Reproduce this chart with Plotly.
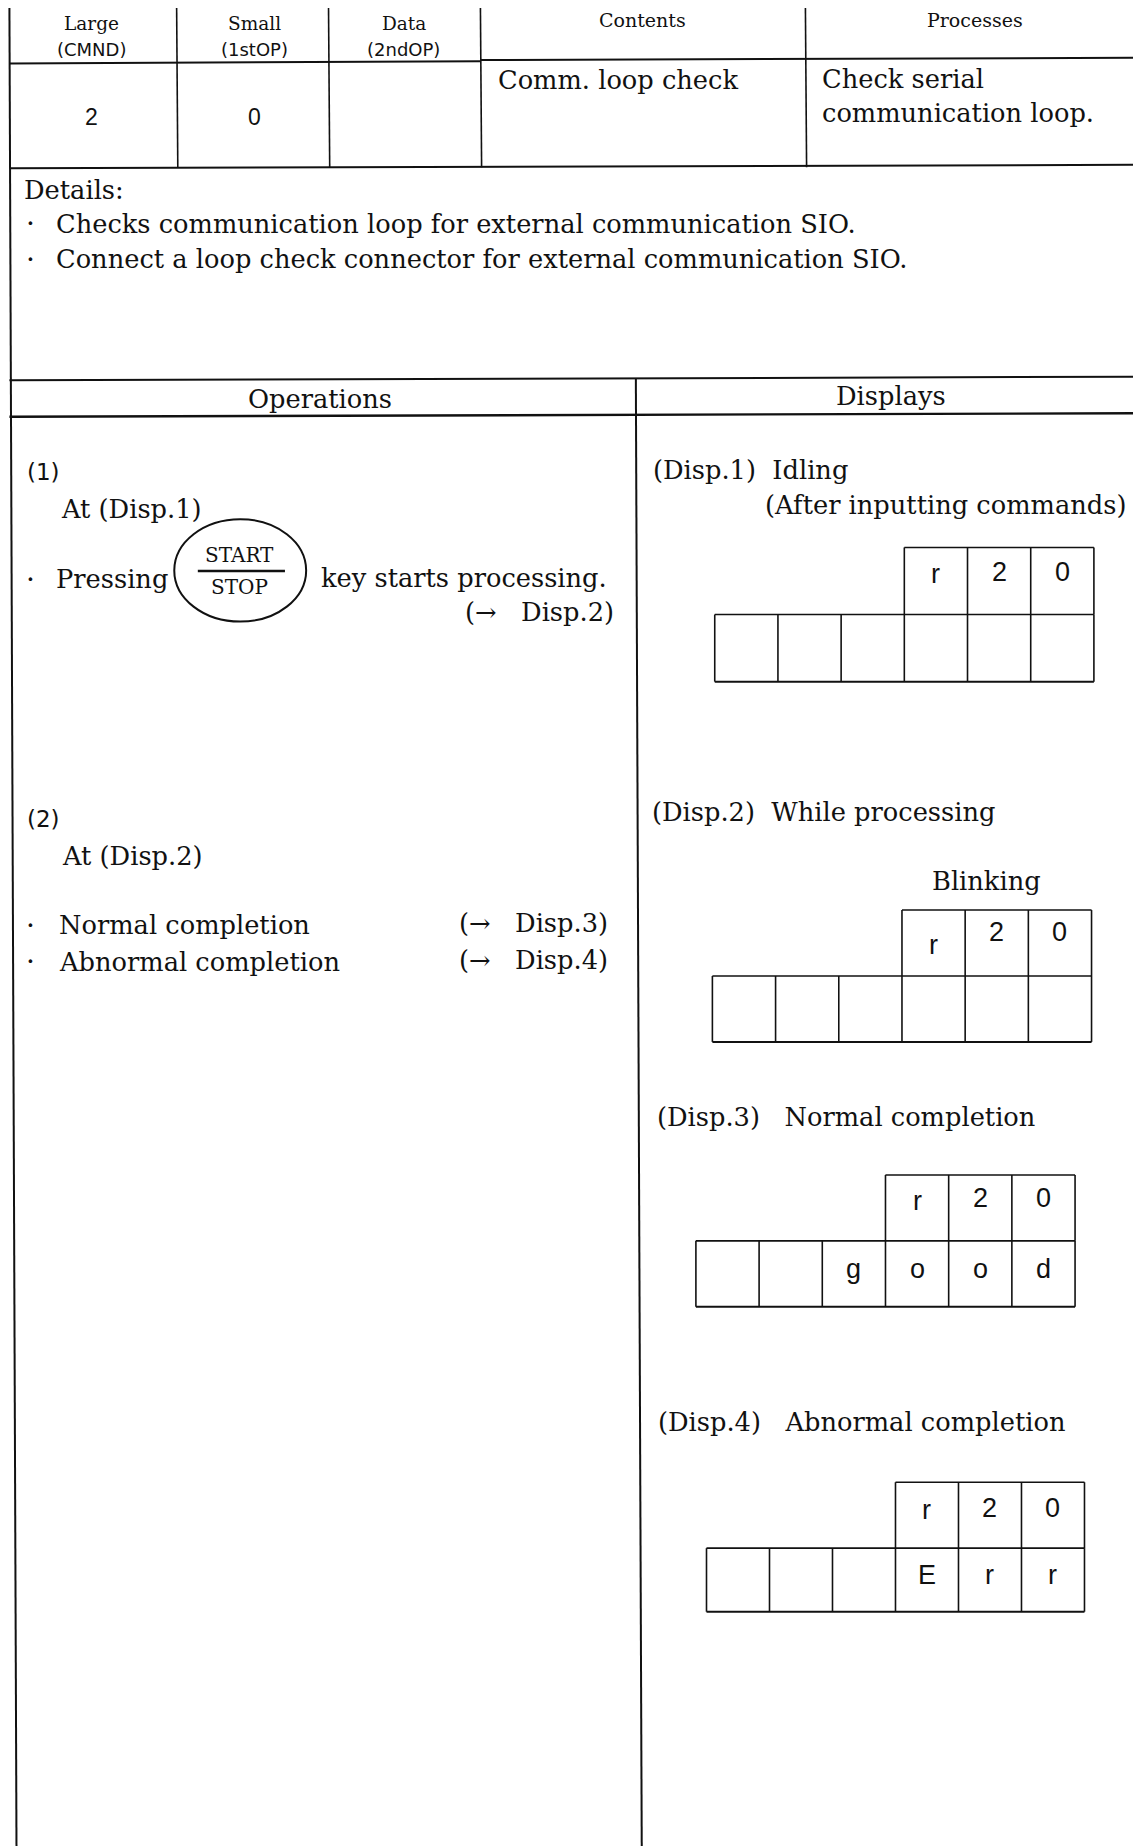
import plotly.graph_objects as go

# ---------------- content (text values) ----------------
header_titles = ["Large", "Small", "Data", "Contents", "Processes"]
header_subs = ["(CMND)", "(1stOP)", "(2ndOP)"]
row_values = ["2", "0", ""]
contents_text = "Comm. loop check"
process_lines = ["Check serial", "communication loop."]
details_title = "Details:"
details_items = [
    "Checks communication loop for external communication SIO.",
    "Connect a loop check connector for external communication SIO.",
]
section_titles = ["Operations", "Displays"]
op_steps = ["(1)", "(2)"]
op_at = ["At (Disp.1)", "At (Disp.2)"]
key_top, key_bottom = "START", "STOP"
op1_pre, op1_post, op1_next = "Pressing", "key starts processing.", "(\u2192   Disp.2)"
op2_items = ["Normal completion", "Abnormal completion"]
op2_next = ["(\u2192   Disp.3)", "(\u2192   Disp.4)"]
disp_titles = ["(Disp.1)  Idling", "(Disp.2)  While processing",
               "(Disp.3)   Normal completion", "(Disp.4)   Abnormal completion"]
disp_notes = ["(After inputting commands)", "Blinking", "", ""]
disp_top = [["r", "2", "0"], ["r", "2", "0"], ["r", "2", "0"], ["r", "2", "0"]]
disp_bottom = [["", "", "", "", "", ""], ["", "", "", "", "", ""],
               ["", "", "g", "o", "o", "d"], ["", "", "", "E", "r", "r"]]

# ---------------- layout geometry (design units) ----------------
PAGE_W, PAGE_H = 1141, 1846
BODY_MARGIN = 8                     # browser default body margin (px)
UX, UY = 969, 1568                  # design units span the whole page
KX = UX / PAGE_W
KY = UY / PAGE_H
W, H = PAGE_W - BODY_MARGIN, PAGE_H - BODY_MARGIN
X0 = BODY_MARGIN * KX
Y0 = BODY_MARGIN * KY

SERIF = "DejaVu Serif"
SANS = "Liberation Sans"
SANS2 = "DejaVu Sans"
BLACK = "#111111"
BODY = 25.7

fig = go.Figure()
fig.add_trace(go.Scatter(x=[X0 + 1], y=[Y0 + 1], mode="markers", marker=dict(opacity=0),
                         hoverinfo="skip", showlegend=False))

shapes = []
def line(x0, y0, x1, y1, w=2.0):
    shapes.append(dict(type="line", xref="x", yref="y", x0=x0, y0=y0, x1=x1, y1=y1,
                       line=dict(color=BLACK, width=w)))

annos = []
def text(x, y, s, size=BODY, font=SERIF, anchor="left", va="middle"):
    annos.append(dict(x=x, y=y, xref="x", yref="y", text=s, showarrow=False,
                      xanchor=anchor, yanchor=va,
                      font=dict(family=font, size=size, color=BLACK)))

# table frame
line(8, 6, 969, 4)
line(8, 6, 14, 1568)
line(8, 54, 408, 52)
line(408, 51, 969, 49)
line(8, 143, 969, 140)
for cx in [150, 279, 408, 684]:
    line(cx, 6, cx + 1, 142, 1.6)
line(8, 323, 969, 320)
line(8, 354, 969, 351, 2.4)
line(540, 322, 545, 1568, 2.0)

# header row
col_centers = [78, 216, 343, 546, 828]
for i, t in enumerate(header_titles):
    if i < 3:
        text(col_centers[i], 20, t, 18.5, SERIF, "center")
        text(col_centers[i], 42, header_subs[i], 18, SANS2, "center")
    else:
        text(col_centers[i], 17, t, 19, SERIF, "center")
for i, v in enumerate(row_values):
    if v:
        text(col_centers[i], 99, v, 23, SANS, "center")
text(421, 68, contents_text)
text(696, 67, process_lines[0])
text(696, 96, process_lines[1])

# details
text(19, 161, details_title)
for k, item in enumerate(details_items):
    yy = 190 + 30 * k
    text(20, yy, "\u00b7", 28, SERIF)
    text(46, yy, item)

# section headings
text(272, 339, section_titles[0], BODY, SERIF, "center")
text(757, 336, section_titles[1], BODY, SERIF, "center")

# operations (1)
text(21, 401, op_steps[0], 23, SANS2)
text(50, 432, op_at[0])
text(20, 492, "\u00b7", 28, SERIF)
text(46, 492, op1_pre)
shapes.append(dict(type="circle", xref="x", yref="y", x0=148, x1=260, y0=441, y1=528,
                   line=dict(color=BLACK, width=2)))
line(168, 485, 242, 485, 2.4)
text(203, 471, key_top, 20, SERIF, "center")
text(203, 499, key_bottom, 20, SERIF, "center")
text(271, 491, op1_post)
text(523, 520, op1_next, BODY, SERIF, "right")

# operations (2)
text(21, 696, op_steps[1], 23, SANS2)
text(51, 727, op_at[1])
for k, item in enumerate(op2_items):
    yy = 786 + 31 * k
    text(20, yy, "\u00b7", 28, SERIF)
    text(48, yy, item)
    text(518, yy - 2, op2_next[k], BODY, SERIF, "right")

# displays
title_pos = [(553, 399), (552, 690), (556, 949), (557, 1208)]
note_pos = [(648, 429, "left"), (838, 748, "center"), None, None]
grids = [(607, 929, 465, 522, 579), (605, 927, 773, 829, 885),
         (591, 913, 998, 1054, 1110), (600, 921, 1259, 1315, 1369)]
top_dy = [[-6, -8, -8], [2, -9, -9], [-6, -8, -8], [-4, -6, -6]]
for d in range(4):
    tx, ty = title_pos[d]
    text(tx, ty, disp_titles[d])
    if disp_notes[d]:
        nx, ny, na = note_pos[d]
        text(nx, ny, disp_notes[d], BODY, SERIF, na)
    xl, xr, yt, ym, yb = grids[d]
    cw = (xr - xl) / 6.0
    xs_top = xl + 3 * cw
    line(xs_top, yt, xr, yt, 1.6)
    for j in range(4):
        line(xs_top + j * cw, yt, xs_top + j * cw, ym, 1.6)
    line(xl, ym, xr, ym, 1.6)
    line(xl, yb, xr, yb, 2.0)
    for j in range(7):
        line(xl + j * cw, ym, xl + j * cw, yb, 1.6)
    for j, ch in enumerate(disp_top[d]):
        if ch:
            text(xs_top + (j + 0.5) * cw, (yt + ym) / 2 + top_dy[d][j], ch, 27, SANS, "center")
    for j, ch in enumerate(disp_bottom[d]):
        if ch:
            text(xl + (j + 0.5) * cw, (ym + yb) / 2 - 4, ch, 27, SANS, "center")

fig.update_layout(
    width=W, height=H, autosize=False,
    margin=dict(l=0, r=0, t=0, b=0),
    paper_bgcolor="white", plot_bgcolor="white",
    xaxis=dict(range=[X0, UX], visible=False, fixedrange=True),
    yaxis=dict(range=[UY, Y0], visible=False, fixedrange=True),
    shapes=shapes, annotations=annos, showlegend=False,
)
fig.write_html("out.html")
